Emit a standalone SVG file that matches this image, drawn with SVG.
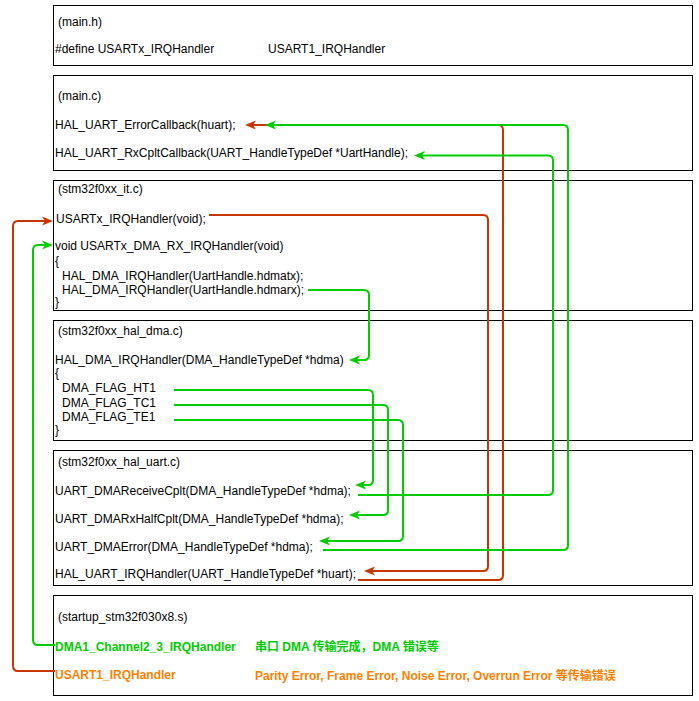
<svg xmlns="http://www.w3.org/2000/svg" width="699" height="701" viewBox="0 0 699 701">
<style>
.box{fill:#fff;stroke:#000;stroke-width:1}
.t{font-family:"Liberation Sans",Arial,sans-serif;font-size:12px;fill:#000}
.b{font-weight:bold}
.g{fill:#00CC00}
.o{fill:#FF8000}
.cg{fill:none;stroke:#00CC00;stroke-width:2}
.cr{fill:none;stroke:#C73500;stroke-width:2}
</style>
<defs>
<marker id="ag" markerUnits="userSpaceOnUse" markerWidth="12" markerHeight="10" refX="3" refY="4.5" orient="auto" overflow="visible">
<path d="M0,0 L11,4.5 L0,9 L3,4.5 Z" fill="#00CC00"/>
</marker>
<marker id="ar" markerUnits="userSpaceOnUse" markerWidth="12" markerHeight="10" refX="3" refY="4.5" orient="auto" overflow="visible">
<path d="M0,0 L11,4.5 L0,9 L3,4.5 Z" fill="#C73500"/>
</marker>
</defs>
<rect width="699" height="701" fill="#fff"/>
<g id="main_h">
<rect class="box" x="53.5" y="5.5" width="639" height="60"/>
<text class="t" x="58" y="26">(main.h)</text>
<text class="t" x="55" y="53">#define USARTx_IRQHandler</text>
<text class="t" x="268" y="53">USART1_IRQHandler</text>
</g>
<g id="main_c">
<rect class="box" x="53.5" y="75.5" width="639" height="95"/>
<text class="t" x="58" y="100">(main.c)</text>
<text class="t" x="55" y="129">HAL_UART_ErrorCallback(huart);</text>
<text class="t" x="55" y="156.5">HAL_UART_RxCpltCallback(UART_HandleTypeDef *UartHandle);</text>
</g>
<g id="it_c">
<rect class="box" x="53.5" y="180.5" width="639" height="130"/>
<text class="t" x="58" y="193">(stm32f0xx_it.c)</text>
<text class="t" x="56" y="222.5">USARTx_IRQHandler(void);</text>
<text class="t" x="55" y="250">void USARTx_DMA_RX_IRQHandler(void)</text>
<text class="t" x="55" y="264.5">{</text>
<text class="t" x="62" y="279.5">HAL_DMA_IRQHandler(UartHandle.hdmatx);</text>
<text class="t" x="62" y="293.5">HAL_DMA_IRQHandler(UartHandle.hdmarx);</text>
<text class="t" x="55" y="306">}</text>
</g>
<g id="hal_dma_c">
<rect class="box" x="53.5" y="320.5" width="639" height="120"/>
<text class="t" x="58" y="335">(stm32f0xx_hal_dma.c)</text>
<text class="t" x="55" y="364">HAL_DMA_IRQHandler(DMA_HandleTypeDef *hdma)</text>
<text class="t" x="55" y="377">{</text>
<text class="t" x="62" y="392">DMA_FLAG_HT1</text>
<text class="t" x="62" y="406.5">DMA_FLAG_TC1</text>
<text class="t" x="62" y="421">DMA_FLAG_TE1</text>
<text class="t" x="55" y="434">}</text>
</g>
<g id="hal_uart_c">
<rect class="box" x="53.5" y="450.5" width="639" height="135"/>
<text class="t" x="58" y="466">(stm32f0xx_hal_uart.c)</text>
<text class="t" x="55" y="495">UART_DMAReceiveCplt(DMA_HandleTypeDef *hdma);</text>
<text class="t" x="55" y="522.5">UART_DMARxHalfCplt(DMA_HandleTypeDef *hdma);</text>
<text class="t" x="55" y="550.5">UART_DMAError(DMA_HandleTypeDef *hdma);</text>
<text class="t" x="55" y="577.5">HAL_UART_IRQHandler(UART_HandleTypeDef *huart);</text>
</g>
<g id="startup_s">
<rect class="box" x="53.5" y="595.5" width="639" height="100"/>
<text class="t" x="58" y="621">(startup_stm32f030x8.s)</text>
<text class="t b g" x="55" y="650.5">DMA1_Channel2_3_IRQHandler</text>
<text class="t b g" x="255" y="650.5" style="font-family:'Liberation Sans','Noto Sans CJK SC',sans-serif">串口 DMA 传输完成，DMA 错误等</text>
<text class="t b o" x="55" y="678.5">USART1_IRQHandler</text>
<text class="t b o" x="255" y="680" style="font-family:'Liberation Sans','Noto Sans CJK SC',sans-serif">Parity Error, Frame Error, Noise Error, Overrun Error 等传输错误</text>
</g>
<g id="connectors">
<path class="cr" marker-end="url(#ar)" d="M209,215 H483 Q488,215 488,220 V566 Q488,571 483,571 H372"/>
<path class="cr" marker-end="url(#ar)" d="M358,580 H498 Q503,580 503,575 V130 Q503,125 498,125 H253"/>
<path class="cg" marker-end="url(#ag)" d="M323,550 H563 Q568,550 568,545 V130 Q568,125 563,125 H273"/>
<path class="cg" marker-end="url(#ag)" d="M358,495 H548 Q553,495 553,490 V160.5 Q553,155.5 548,155.5 H422"/>
<path class="cg" marker-end="url(#ag)" d="M308,290 H364 Q369,290 369,295 V355 Q369,360 364,360 H357"/>
<path class="cg" marker-end="url(#ag)" d="M174,390 H368 Q373,390 373,395 V480 Q373,485 368,485 H363"/>
<path class="cg" marker-end="url(#ag)" d="M174,405 H383 Q388,405 388,410 V510 Q388,515 383,515 H357"/>
<path class="cg" marker-end="url(#ag)" d="M174,420 H398 Q403,420 403,425 V536 Q403,541 398,541 H327"/>
<path class="cg" marker-end="url(#ag)" d="M55,645 H38 Q33,645 33,640 V250 Q33,245 38,245 H45"/>
<path class="cr" marker-end="url(#ar)" d="M55,671 H18 Q13,671 13,666 V226 Q13,221 18,221 H45"/>
</g>
</svg>
